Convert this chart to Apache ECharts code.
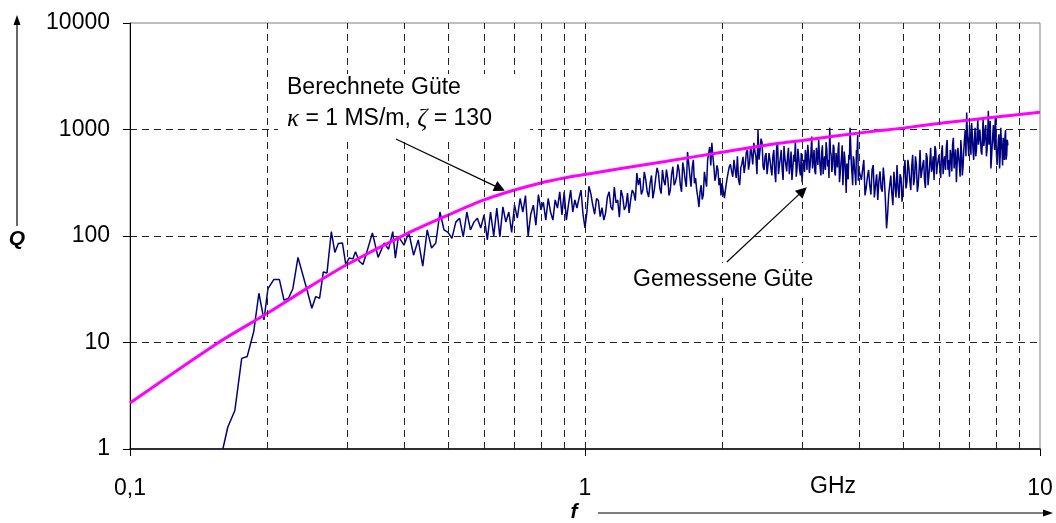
<!DOCTYPE html>
<html>
<head>
<meta charset="utf-8">
<script src="https://cdn.jsdelivr.net/npm/echarts@6/dist/echarts.min.js"></script>
<style>
  html, body { margin: 0; padding: 0; background: #fff; }
  #chart { width: 1056px; height: 523px; }
</style>
</head>
<body>
<div id="chart"></div>
<script>
// Measured quality factor, low band: individual sweep points (GHz, Q)
const fLow = [0.160,0.164,0.170,0.176,0.181,0.187,0.192,0.197,0.201,0.207,0.213,0.218,0.223,0.228,0.234,0.244,0.251,0.256,0.261,0.266,0.271,0.277,0.282,0.287,0.293,0.298,0.303,0.309,0.313,0.319,0.325,0.331,0.341,0.351,0.362,0.370,0.373,0.378,0.383,0.389];
const qLow = [1.0,1.6,2.3,7.1,7.4,12.6,29,16.3,32,39,39,25,26,32,63,33,21,27,26,46,45,110,70,85,86,54,62,61,71,58,54,69,107,63,86,75,74,110,62,99];

// Measured Q on regular sweep grids: [start GHz, step GHz]
const sweepB = [0.40, 0.01];
const qB = [82,108,66,92,52,114,77,86,168,114,
            108,95,135,147,98,168,114,135,147,119,
            158,92,168,100,183,98,188,135,168,108,
            195,147,225,168,240,100,160,195,126,245,
            176,207,141,225,168,141,218,183,260,158,
            260,141,198,270,168,218,183,225,270,160,119];
const sweepC = [1.02, 0.02];
const qC = [293,195,225,152,141,232,188,288,218,270,
            176,253,218,253,390,350,270,336,232,370,
            270,436,283,417,300,350,270,447,320,470,
            300,490,336,616,370,436,313,270,187,300,
            245,336,518,685,751,447,370,417,350,313];
const sweepC2 = [1.01, 0.02];
const qC2 = [170,250,160,215,185,165,260,175,205,150,
             235,190,165,270,215,300,245,400,260,310,
             225,350,390,250,330,420,240,380,300,360,
             410,260,420,290,480,290,520,350,230,260,
             220,400,290,600,460,560,330,460,300,240];
const sweepD = [2.025, 0.025];
const qD = [227,336,447,404,518,350,336,436,553,465,
            643,490,580,751,553,990,643,751,417,600,
            465,518,370,643,320,751,465,643,336,540,
            404,674,465,336,580,798,436,540,370,320,
            518,643,417,580,465,860,518,404,674,465,
            580,370,710,495,417,643,518,1040,580,465,
            674,370,518,643,320,465,710,417,540,254,
            417,580,1040,465,300,518,370,643,890,417];
const sweepD2 = [2.0375, 0.025];
const qD2 = [280,390,470,360,420,560,300,480,390,610,
             420,700,470,620,380,520,820,450,560,380,
             600,430,560,400,690,380,540,420,700,470,
             560,380,620,430,500,360,660,420,600,450,
             400,560,720,390,600,430,640,380,560,800,
             430,610,380,560,760,450,350,620,400,720,
             400,600,440,760,380,560,300,620,380,480,
             340,520,700,380,560,420,300,600,330];
const sweepE = [4.05, 0.05];
const qE = [336,518,283,417,245,465,300,218,404,260,
            336,118,245,370,195,300,465,227,350,260,
            518,320,436,270,580,350,465,300,643,404,
            518,283,540,370,674,436,336,643,465,580,
            350,710,495,417,798,518,643,404,835,540,
            320,674,465,798,370,643,990,1440,710,1100,
            580,890,518,1040,643,1230,710,990,580,1290,
            798,1100,643,1500,890,430,710,1100,643,950,
            465,798,430,1040,643,835,518,990,580,710];
const sweepE2 = [4.075, 0.05];
const qE2 = [420,240,360,300,420,230,380,330,280,440,
             210,160,300,250,400,230,280,380,210,420,
             280,520,330,450,300,560,260,420,350,470,
             330,600,300,480,400,560,700,380,520,420,
             600,380,560,680,420,360,560,720,430,650,
             480,560,360,600,450,820,560,900,560,760,
             1150,650,800,560,900,720,1000,620,860,700,
             1000,560,900,720,1200,540,900,780,1300,560,
             620,900,560,760,460,700,860,520,800];

// Calculated quality factor (kappa = 1 MS/m, zeta = 130)
const fCalc = [0.1,0.156,0.2,0.25,0.3,0.4,0.5,0.6,0.7,0.8,0.9,1.0,1.2,1.5,2.0,2.6,3.0,4.2,5.0,6.1,7.0,8.0,10];
const qCalc = [2.7,9.9,18.7,34,54,102,157,218,270,315,350,378,430,500,612,730,790,950,1030,1150,1230,1310,1450];

// Axis labelling
const xTicks = [0.1, 1, 10];
const xGridValues = [0.2,0.3,0.4,0.5,0.6,0.7,0.8,0.9,1,2,3,4,5,6,7,8,9];
const yTicks = [1, 10, 100, 1000, 10000];

const measured = fLow.map((f, i) => [f, qLow[i]]);
[[sweepB, qB], [sweepC, qC], [sweepC2, qC2], [sweepD, qD], [sweepD2, qD2], [sweepE, qE], [sweepE2, qE2]]
  .forEach(([sw, qs]) => {
    qs.forEach((q, i) => measured.push([+(sw[0] + i * sw[1]).toFixed(4), q]));
  });
measured.sort((a, b) => a[0] - b[0]);
const calculated = fCalc.map((f, i) => [f, qCalc[i]]);

const FONT = '"Liberation Sans", Arial, sans-serif';
const dash = [7, 5];

const chart = echarts.init(document.getElementById('chart'), null, { renderer: 'canvas' });

chart.setOption({
  animation: false,
  backgroundColor: '#fff',
  grid: {
    left: 130, right: 16, top: 23, bottom: 74,
    show: true, borderColor: '#808080', borderWidth: 1, backgroundColor: 'transparent'
  },
  xAxis: {
    type: 'log', logBase: 10, min: 0.1, max: 10,
    axisLine: { show: true, lineStyle: { color: '#000', width: 1.5 } },
    axisTick: { show: true, length: 7, lineStyle: { color: '#000' } },
    splitLine: { show: false },
    axisLabel: {
      margin: 28, color: '#000', fontFamily: FONT, fontSize: 23,
      formatter: v => xTicks.some(t => Math.abs(t - v) < 1e-9) ? String(v).replace('.', ',') : ''
    }
  },
  yAxis: {
    type: 'log', logBase: 10, min: 1, max: 10000,
    axisLine: { show: true, lineStyle: { color: '#000', width: 1 } },
    axisTick: { show: true, length: 7, lineStyle: { color: '#000' } },
    splitLine: { show: true, showMinLine: false, showMaxLine: false,
                 lineStyle: { color: '#222', width: 1, type: dash } },
    axisLabel: {
      margin: 20, color: '#000', fontFamily: FONT, fontSize: 23,
      formatter: v => yTicks.some(t => Math.abs(t - v) < 1e-6) ? String(Math.round(v)) : ''
    }
  },
  series: [
    {
      name: 'Gitter',
      type: 'line',
      data: [],
      silent: true,
      markLine: {
        silent: true,
        symbol: ['none', 'none'],
        label: { show: false },
        lineStyle: { color: '#222', width: 1, type: dash },
        emphasis: { disabled: true },
        data: xGridValues.map(v => ({ xAxis: v }))
      },
      z: 1
    },
    {
      name: 'Gemessene Güte',
      type: 'line',
      data: measured,
      showSymbol: false,
      symbol: 'none',
      lineStyle: { color: '#000080', width: 1.5 },
      z: 3
    },
    {
      name: 'Berechnete Güte',
      type: 'line',
      data: calculated,
      smooth: 0.3,
      showSymbol: false,
      symbol: 'none',
      lineStyle: { color: '#ff00ff', width: 3 },
      z: 4,
      markLine: {
        silent: true,
        symbol: ['none', 'triangle'],
        symbolSize: 11,
        label: { show: false },
        lineStyle: { color: '#000', width: 1.2, type: 'solid' },
        itemStyle: { color: '#000' },
        emphasis: { disabled: true },
        data: [
          [{ coord: [0.384, 815] }, { coord: [0.65, 280] }],
          [{ coord: [2.05, 57] }, { coord: [3.01, 265] }]
        ]
      }
    }
  ],
  graphic: [
    // annotation: calculated Q
    { type: 'rect', z: 50, shape: { x: 278, y: 74, width: 252, height: 64 }, style: { fill: '#fff' } },
    { type: 'text', z: 51, x: 287, y: 88,
      style: { text: 'Berechnete Güte', font: '23px ' + FONT, fill: '#000', verticalAlign: 'middle' } },
    { type: 'text', z: 51, x: 287, y: 119,
      style: {
        text: '{g|κ} = 1 MS/m, {g|ζ} = 130',
        font: '23px ' + FONT, fill: '#000', verticalAlign: 'middle',
        rich: { g: { fontFamily: '"Liberation Serif", "Times New Roman", serif', fontStyle: 'italic', fontSize: 25, fill: '#000' } }
      } },
    // annotation: measured Q
    { type: 'rect', z: 50, shape: { x: 628, y: 263, width: 196, height: 34 }, style: { fill: '#fff' } },
    { type: 'text', z: 51, x: 633, y: 280,
      style: { text: 'Gemessene Güte', font: '23px ' + FONT, fill: '#000', verticalAlign: 'middle' } },
    // unit label
    { type: 'text', z: 51, x: 833, y: 487,
      style: { text: 'GHz', font: '23px ' + FONT, fill: '#000', align: 'center', verticalAlign: 'middle' } },
    // quantity labels with direction arrows
    { type: 'text', z: 51, x: 17, y: 239,
      style: { text: 'Q', font: 'italic bold 21px ' + FONT, fill: '#000', align: 'center', verticalAlign: 'middle' } },
    { type: 'line', z: 51, shape: { x1: 17, y1: 226, x2: 17, y2: 24 }, style: { stroke: '#000', lineWidth: 1.2 } },
    { type: 'polygon', z: 51, shape: { points: [[17, 15], [13.5, 25], [20.5, 25]] }, style: { fill: '#000' } },
    { type: 'text', z: 51, x: 574, y: 512,
      style: { text: 'f', font: 'italic bold 21px ' + FONT, fill: '#000', align: 'center', verticalAlign: 'middle' } },
    { type: 'line', z: 51, shape: { x1: 598, y1: 513, x2: 1044, y2: 513 }, style: { stroke: '#000', lineWidth: 1.2 } },
    { type: 'polygon', z: 51, shape: { points: [[1053, 513], [1043, 509.5], [1043, 516.5]] }, style: { fill: '#000' } }
  ]
});
</script>
</body>
</html>
